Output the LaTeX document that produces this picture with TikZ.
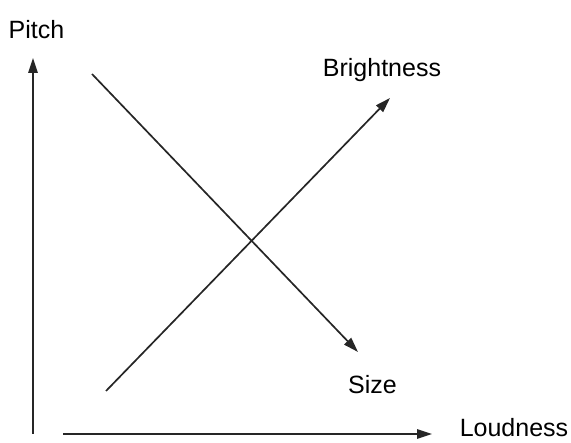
\documentclass[tikz,border=0pt]{standalone}
\usepackage{fontspec}
\setmainfont{Liberation Sans}
\usetikzlibrary{arrows.meta,positioning}
\begin{document}
\begin{tikzpicture}[
  x=1pt, y=-1pt,
  lbl/.style={font=\fontsize{25}{30}\selectfont, inner sep=0pt},
  arr/.style={-{Triangle[length=15pt,width=9.5pt]}, line width=1.7pt, black!85}
]
\useasboundingbox (0,0) rectangle (571,443);
% labels
\node[lbl] (pitch) at (36.5,29.5) {Pitch};
\node[lbl] (bright) at (382,70.5) {Brightness};
\node[lbl] (size) at (372.5,385) {Size};
\node[lbl] (loud) at (514,428) {Loudness};
% line ends
\coordinate (vbot) at (33,434);
\coordinate (vtop) at (33,58);
\coordinate (hleft) at (63,434);
\coordinate (hright) at (432,434);
\coordinate (sizestart) at (92,74);
\coordinate (sizeend) at (358,352);
\coordinate (brightstart) at (106,391);
\coordinate (brightend) at (390,98);
% arrows
\draw[arr] (vbot) -- (vtop);
\draw[arr] (hleft) -- (hright);
\draw[arr] (sizestart) -- (sizeend);
\draw[arr] (brightstart) -- (brightend);
\end{tikzpicture}
\end{document}
